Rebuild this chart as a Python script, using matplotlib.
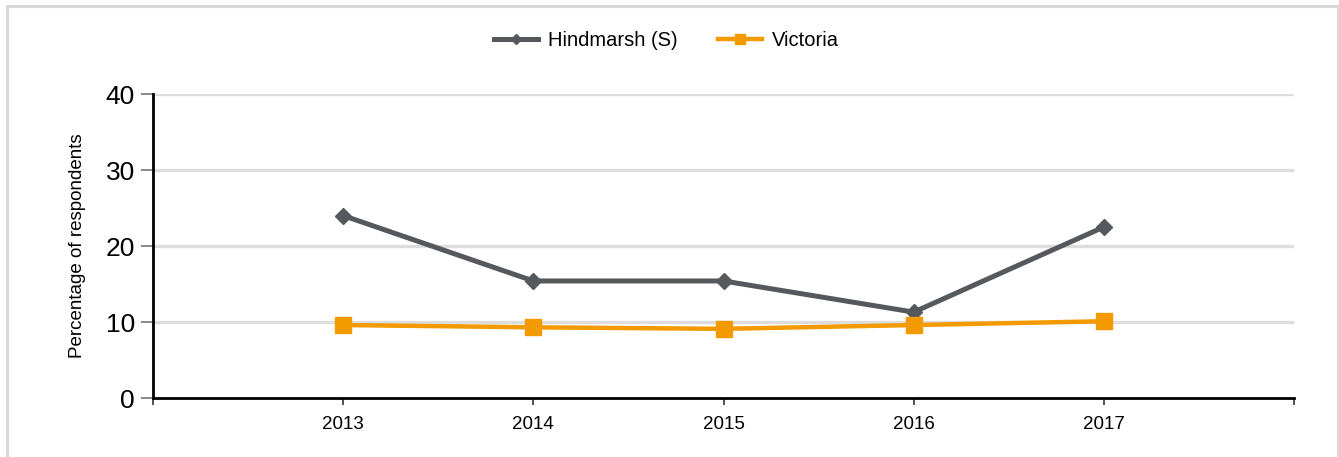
import matplotlib.pyplot as plt
from matplotlib.patches import Rectangle
from matplotlib.lines import Line2D

plt.rcParams['font.family'] = ['Liberation Sans', 'DejaVu Sans']

years = [2013, 2014, 2015, 2016, 2017]
hindmarsh = [24.0, 15.4, 15.4, 11.3, 22.5]
victoria = [9.6, 9.3, 9.1, 9.6, 10.1]
yticks = [0, 10, 20, 30, 40]

grey = '#55595d'
orange = '#f39a00'

fig = plt.figure(figsize=(13.39, 4.57), dpi=100)
ax = fig.add_axes([0.1143, 0.1291, 0.8521, 0.6652])

# light frame round the chart
fig.patches.append(Rectangle((7/1339, -0.1), 1331/1339, 1.1 - 6/457, transform=fig.transFigure,
                             fill=False, edgecolor='#d9d9d9', linewidth=2.2))

ax.plot(years, hindmarsh, color=grey, linewidth=3.6, marker='D', markersize=8, zorder=3)
ax.plot(years, victoria, color=orange, linewidth=3.2, marker='s', markersize=11.5, zorder=3)

ax.set_xlim(2012, 2018)
ax.set_ylim(0, 40)
ax.set_xticks(range(2012, 2019))
ax.set_xticklabels([''] + [str(y) for y in years] + [''], fontsize=13.5)
ax.set_yticks(yticks)
ax.set_yticklabels([str(v) for v in yticks], fontsize=19)
ax.tick_params(axis='y', length=9, width=1.2, color='#777777', pad=4)
ax.tick_params(axis='x', length=5, width=1.2, color='#333333', pad=8)

for v in yticks[1:]:
    ax.axhline(v, color='#dddddd', linewidth=2.4, zorder=1)

for s in ['top', 'right']:
    ax.spines[s].set_visible(False)
ax.spines['left'].set_linewidth(2)
ax.spines['bottom'].set_linewidth(2)

ax.set_ylabel('Percentage of respondents', fontsize=13.5, labelpad=14)

handles = [Line2D([], [], color=grey, linewidth=3.6, marker='D', markersize=5.5),
           Line2D([], [], color=orange, linewidth=3.2, marker='s', markersize=7.5)]
ax.legend(handles, ['Hindmarsh (S)', 'Victoria'], loc='center', bbox_to_anchor=(0.45, 1.175),
          ncol=2, frameon=False, fontsize=14.5, handlelength=2.2, columnspacing=2,
          handletextpad=0.5)

fig.savefig('out.png', dpi=100)
